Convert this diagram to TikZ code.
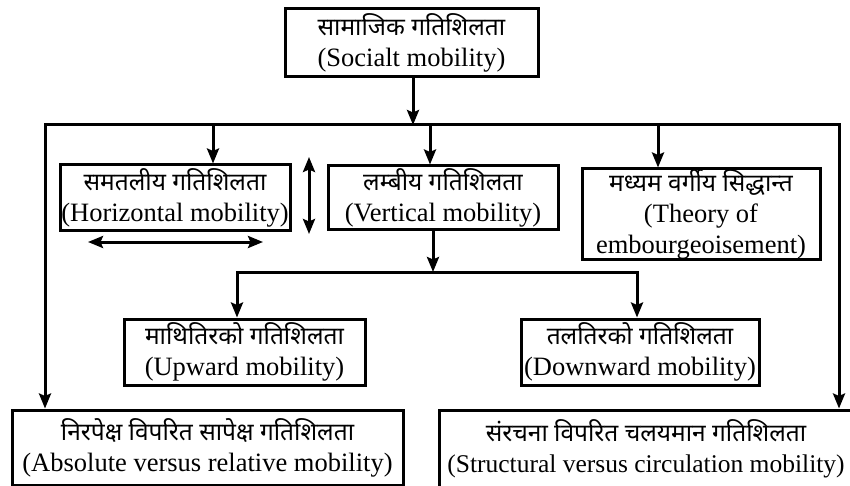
\documentclass[tikz,border=0pt]{standalone}
\usepackage{fontspec}
\setmainfont{Liberation Serif}
\newfontfamily\deva[Script=Devanagari]{Noto Sans}
\usetikzlibrary{arrows.meta}

\begin{document}
\begin{tikzpicture}[
	x=1pt, y=-1pt,
	box/.style={rectangle, draw, line width=3pt, inner sep=0pt, align=center, text centered, font=\fontsize{26.5}{31}\selectfont},
	link/.style={line width=3pt},
	arrow/.style={link, -{Stealth[length=15pt,width=12pt,inset=2.5pt]}},
	twoway/.style={link, {Stealth[length=15pt,width=12pt,inset=2.5pt]}-{Stealth[length=15pt,width=12pt,inset=2.5pt]}},
	]
	\useasboundingbox (0,0) rectangle (850,486);
	\newcommand{\dv}[1]{{\deva\fontsize{24.5}{31}\selectfont #1}}
	\node [box, minimum width=253pt, minimum height=68pt] (social) at (411.5,43) {\dv{सामाजिक गतिशिलता}\\(Socialt mobility)};
	\node [box, minimum width=230pt, minimum height=65pt] (horiz) at (175,197.5) {\dv{समतलीय गतिशिलता}\\(Horizontal mobility)};
	\node [box, minimum width=230pt, minimum height=63pt] (vert) at (443,197.5) {\dv{लम्बीय गतिशिलता}\\(Vertical mobility)};
	\node [box, minimum width=238pt, minimum height=90pt] (theory) at (701,214) {\dv{मध्यम वर्गीय सिद्धान्त}\\(Theory of\\embourgeoisement)};
	\node [box, minimum width=241pt, minimum height=66pt] (upward) at (244.5,352) {\dv{माथितिरको गतिशिलता}\\(Upward mobility)};
	\node [box, minimum width=238pt, minimum height=66pt] (downward) at (640,352) {\dv{तलतिरको गतिशिलता}\\(Downward mobility)};
	\node [box, minimum width=391pt, minimum height=75pt] (absolute) at (207.5,447.5) {\dv{निरपेक्ष विपरित सापेक्ष गतिशिलता}\\(Absolute versus relative mobility)};
	\node [box, minimum width=414pt, minimum height=78pt, font=\fontsize{25.5}{31}\selectfont] (structural) at (646,449) {\dv{संरचना विपरित चलयमान गतिशिलता}\\(Structural versus circulation mobility)};
	
	\coordinate (bus) at (413,125);
	\coordinate (busW) at (45,125);
	\coordinate (busE) at (839,125);
	\coordinate (toHoriz) at (213,125);
	\coordinate (toVert) at (430,125);
	\coordinate (toTheory) at (658,125);
	\coordinate (split) at (433,272);
	\coordinate (splitW) at (237,272);
	\coordinate (splitE) at (637,272);
	\coordinate (upN) at (309,157);
	\coordinate (upS) at (309,234);
	\coordinate (sideW) at (88,242);
	\coordinate (sideE) at (263,242);
	
	\draw [arrow] (social.south -| bus) -- (bus);
	\draw [arrow] (bus) -| (absolute.north -| busW);
	\draw [arrow] (bus) -| (structural.north -| busE);
	\draw [arrow] (toHoriz) -- (toHoriz |- horiz.north);
	\draw [arrow] (toVert) -- (toVert |- vert.north);
	\draw [arrow] (toTheory) -- (toTheory |- theory.north);
	\draw [arrow] (vert.south -| split) -- (split);
	\draw [arrow] (split) -| (upward.north -| splitW);
	\draw [arrow] (split) -| (downward.north -| splitE);
	\draw [twoway] (upN) -- (upS);
	\draw [twoway] (sideW) -- (sideE);
\end{tikzpicture}
\end{document}
